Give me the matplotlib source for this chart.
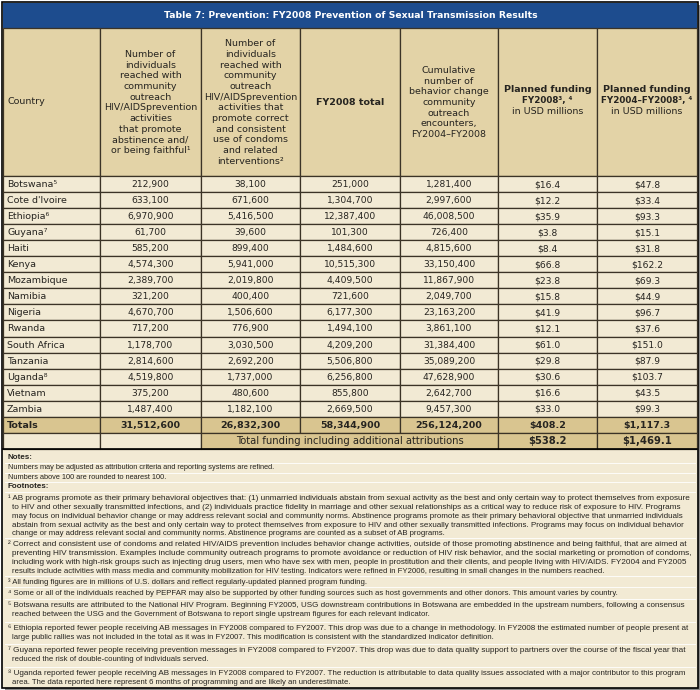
import matplotlib
matplotlib.use("Agg")
import matplotlib.pyplot as plt
from matplotlib.patches import Rectangle

# table data
countries = ["Botswana⁵", "Cote d'Ivoire", "Ethiopia⁶", "Guyana⁷", "Haiti", "Kenya",
             "Mozambique", "Namibia", "Nigeria", "Rwanda", "South Africa", "Tanzania",
             "Uganda⁸", "Vietnam", "Zambia"]
ab_reached = [212900, 633100, 6970900, 61700, 585200, 4574300, 2389700, 321200,
              4670700, 717200, 1178700, 2814600, 4519800, 375200, 1487400]
condom_reached = [38100, 671600, 5416500, 39600, 899400, 5941000, 2019800, 400400,
                  1506600, 776900, 3030500, 2692200, 1737000, 480600, 1182100]
fy2008_total = [251000, 1304700, 12387400, 101300, 1484600, 10515300, 4409500, 721600,
                6177300, 1494100, 4209200, 5506800, 6256800, 855800, 2669500]
cumulative = [1281400, 2997600, 46008500, 726400, 4815600, 33150400, 11867900, 2049700,
              23163200, 3861100, 31384400, 35089200, 47628900, 2642700, 9457300]
funding_2008 = [16.4, 12.2, 35.9, 3.8, 8.4, 66.8, 23.8, 15.8, 41.9, 12.1, 61.0, 29.8,
                30.6, 16.6, 33.0]
funding_0408 = [47.8, 33.4, 93.3, 15.1, 31.8, 162.2, 69.3, 44.9, 96.7, 37.6, 151.0,
                87.9, 103.7, 43.5, 99.3]
totals_counts = [31512600, 26832300, 58344900, 256124200]
totals_funding = [408.2, 1117.3]
funding_incl_attrib = [538.2, 1469.1]

title = "Table 7: Prevention: FY2008 Prevention of Sexual Transmission Results"
headers = [
    "Country",
    "Number of\nindividuals\nreached with\ncommunity\noutreach\nHIV/AIDSprevention\nactivities\nthat promote\nabstinence and/\nor being faithful¹",
    "Number of\nindividuals\nreached with\ncommunity\noutreach\nHIV/AIDSprevention\nactivities that\npromote correct\nand consistent\nuse of condoms\nand related\ninterventions²",
    "FY2008 total",
    "Cumulative\nnumber of\nbehavior change\ncommunity\noutreach\nencounters,\nFY2004–FY2008",
    "Planned funding\nFY2008³, ⁴\nin USD millions",
    "Planned funding\nFY2004–FY2008³, ⁴\nin USD millions",
]
notes = ["Numbers may be adjusted as attribution criteria and reporting systems are refined.",
         "Numbers above 100 are rounded to nearest 100."]
footnotes = [
    ["¹ AB programs promote as their primary behavioral objectives that: (1) unmarried individuals abstain from sexual activity as the best and only certain way to protect themselves from exposure",
     "to HIV and other sexually transmitted infections, and (2) individuals practice fidelity in marriage and other sexual relationships as a critical way to reduce risk of exposure to HIV. Programs",
     "may focus on individual behavior change or may address relevant social and community norms. Abstinence programs promote as their primary behavioral objective that unmarried individuals",
     "abstain from sexual activity as the best and only certain way to protect themselves from exposure to HIV and other sexually transmitted infections. Programs may focus on individual behavior",
     "change or may address relevant social and community norms. Abstinence programs are counted as a subset of AB programs."],
    ["² Correct and consistent use of condoms and related HIV/AIDS prevention includes behavior change activities, outside of those promoting abstinence and being faithful, that are aimed at",
     "preventing HIV transmission. Examples include community outreach programs to promote avoidance or reduction of HIV risk behavior, and the social marketing or promotion of condoms,",
     "including work with high-risk groups such as injecting drug users, men who have sex with men, people in prostitution and their clients, and people living with HIV/AIDS. FY2004 and FY2005",
     "results include activities with mass media and community mobilization for HIV testing. Indicators were refined in FY2006, resulting in small changes in the numbers reached."],
    ["³ All funding figures are in millions of U.S. dollars and reflect regularly-updated planned program funding."],
    ["⁴ Some or all of the individuals reached by PEPFAR may also be supported by other funding sources such as host governments and other donors. This amount varies by country."],
    ["⁵ Botswana results are attributed to the National HIV Program. Beginning FY2005, USG downstream contributions in Botswana are embedded in the upstream numbers, following a consensus",
     "reached between the USG and the Government of Botswana to report single upstream figures for each relevant indicator."],
    ["⁶ Ethiopia reported fewer people receiving AB messages in FY2008 compared to FY2007. This drop was due to a change in methodology. In FY2008 the estimated number of people present at",
     "large public rallies was not included in the total as it was in FY2007. This modification is consistent with the standardized indicator definition."],
    ["⁷ Guyana reported fewer people receiving prevention messages in FY2008 compared to FY2007. This drop was due to data quality support to partners over the course of the fiscal year that",
     "reduced the risk of double-counting of individuals served."],
    ["⁸ Uganda reported fewer people receiving AB messages in FY2008 compared to FY2007. The reduction is attributable to data quality issues associated with a major contributor to this program",
     "area. The data reported here represent 6 months of programming and are likely an underestimate."],
]

# layout (pixel coords, y down)
col_x = [3, 100, 201, 300, 400, 498, 597, 697]
title_top, head_top, head_bot = 3, 28, 176
row_h = 16.05
fn_start = [498, 544, 582, 593, 605, 628, 650, 673]
fn_size = 5.6
fn_right = 688
blue = "#1d4c8e"
tan = "#e3d3a7"
cream = "#f2ead4"
total_tan = "#d9c590"
line_col = "#3b3326"
txt = "#262420"
tfont = ["DejaVu Sans"]
nfont = ["Liberation Sans", "DejaVu Sans"]

fig = plt.figure(figsize=(7, 6.9), dpi=100)
ax = fig.add_axes([0, 0, 1, 1])
ax.set_xlim(0, 700)
ax.set_ylim(690, 0)
ax.axis("off")
renderer = fig.canvas.get_renderer()


def cell(x0, x1, y0, y1, color):
    ax.add_patch(Rectangle((x0, y0), x1 - x0, y1 - y0, facecolor=color,
                           edgecolor=line_col, linewidth=0.9))


def text_width(s, size):
    # 1 data unit == 1 pixel here
    t = ax.text(0, 0, s, fontsize=size, family=nfont)
    w = t.get_window_extent(renderer=renderer).width
    t.remove()
    return w


# shadow + frame + title bar
ax.add_patch(Rectangle((5, 5), 695, 685, facecolor="#8a8a8a", edgecolor="none"))
ax.add_patch(Rectangle((2, 2), 696, 686, facecolor=cream, edgecolor="black", linewidth=1.2))
ax.add_patch(Rectangle((3, title_top), 694, head_top - title_top, facecolor=blue, edgecolor="none"))
ax.text(351, (title_top + head_top) / 2 + 0.5, title, color="white", fontsize=6.7,
        fontweight="bold", ha="center", va="center", family=tfont)

# header
yc = (head_top + head_bot) / 2
for j, h in enumerate(headers):
    cell(col_x[j], col_x[j + 1], head_top, head_bot, tan)
    xc = (col_x[j] + col_x[j + 1]) / 2
    if j == 0:
        ax.text(col_x[0] + 4, yc, h, fontsize=6.8, color=txt, ha="left", va="center",
                family=tfont)
    elif j >= 5:
        first, sub, last = h.split("\n")
        ax.text(xc, yc - 12, first, fontsize=6.8, color=txt, ha="center", va="center",
                family=tfont, fontweight="bold")
        ax.text(xc, yc - 1, sub, fontsize=6.3, color=txt, ha="center", va="center",
                family=tfont, fontweight="bold")
        ax.text(xc, yc + 10, last, fontsize=6.8, color=txt, ha="center", va="center",
                family=tfont)
    else:
        ax.text(xc, yc + 0.5, h, fontsize=6.8, color=txt, ha="center", va="center",
                family=tfont, linespacing=1.24,
                fontweight="bold" if j == 3 else "normal")

# data rows
for i, c in enumerate(countries):
    y0 = head_bot + i * row_h
    vals = [ab_reached[i], condom_reached[i], fy2008_total[i], cumulative[i]]
    strs = [c] + [f"{v:,}" for v in vals] + [f"${funding_2008[i]:.1f}", f"${funding_0408[i]:.1f}"]
    for j, s in enumerate(strs):
        cell(col_x[j], col_x[j + 1], y0, y0 + row_h, cream)
        if j == 0:
            ax.text(col_x[0] + 4, y0 + row_h / 2 + 0.5, s, fontsize=6.8, color=txt,
                    ha="left", va="center", family=tfont)
        else:
            ax.text((col_x[j] + col_x[j + 1]) / 2, y0 + row_h / 2 + 0.5, s, fontsize=6.6,
                    color=txt, ha="center", va="center", family=tfont)

# totals row
y0 = head_bot + len(countries) * row_h
tot_strs = ["Totals"] + [f"{v:,}" for v in totals_counts] + [f"${v:,.1f}" for v in totals_funding]
for j, s in enumerate(tot_strs):
    cell(col_x[j], col_x[j + 1], y0, y0 + row_h, total_tan)
    if j == 0:
        ax.text(col_x[0] + 4, y0 + row_h / 2 + 0.5, s, fontsize=6.8, color=txt,
                ha="left", va="center", family=tfont, fontweight="bold")
    else:
        ax.text((col_x[j] + col_x[j + 1]) / 2, y0 + row_h / 2 + 0.5, s, fontsize=6.8,
                color=txt, ha="center", va="center", family=tfont, fontweight="bold")

# total funding incl. attributions row
y0 += row_h
cell(col_x[0], col_x[1], y0, y0 + row_h, cream)
cell(col_x[1], col_x[2], y0, y0 + row_h, cream)
cell(col_x[2], col_x[5], y0, y0 + row_h, total_tan)
ax.text((col_x[2] + col_x[5]) / 2, y0 + row_h / 2 + 0.5,
        "Total funding including additional attributions", fontsize=7.2, color=txt,
        ha="center", va="center", family=tfont)
for k, v in enumerate(funding_incl_attrib):
    j = 5 + k
    cell(col_x[j], col_x[j + 1], y0, y0 + row_h, total_tan)
    ax.text((col_x[j] + col_x[j + 1]) / 2, y0 + row_h / 2 + 0.5, f"${v:,.1f}",
            fontsize=7.2, color=txt, ha="center", va="center", family=tfont,
            fontweight="bold")
table_bot = y0 + row_h
ax.plot([col_x[0], col_x[-1]], [table_bot, table_bot], color="black", lw=1.2)

# notes
y = table_bot + 9
ax.text(8, y, "Notes:", fontsize=5.8, fontweight="bold", color=txt, va="center", family=nfont)
for n in notes:
    ax.plot([5, 695], [y + 5, y + 5], color="white", lw=0.6)
    y += 9.7
    ax.text(8, y, n, fontsize=5.3, color=txt, va="center", family=nfont)
ax.plot([5, 695], [y + 5, y + 5], color="white", lw=0.6)
y += 9.7
ax.text(8, y, "Footnotes:", fontsize=5.8, fontweight="bold", color=txt, va="center", family=nfont)

# footnotes: full lines are sized to reach the right edge (the report is justified)
for fn, ys in zip(footnotes, fn_start):
    ax.plot([5, 695], [ys - 6, ys - 6], color="white", lw=0.6)
    for k, line in enumerate(fn):
        yl = ys + k * 8.8 + 2.2
        x0 = 8 if k == 0 else 12
        size = fn_size
        if k < len(fn) - 1:
            size = fn_size * (fn_right - x0) / text_width(line, fn_size)
        ax.text(x0, yl, line, fontsize=size, color=txt, va="baseline", family=nfont)

fig.savefig("out.png", dpi=100, facecolor="white")
